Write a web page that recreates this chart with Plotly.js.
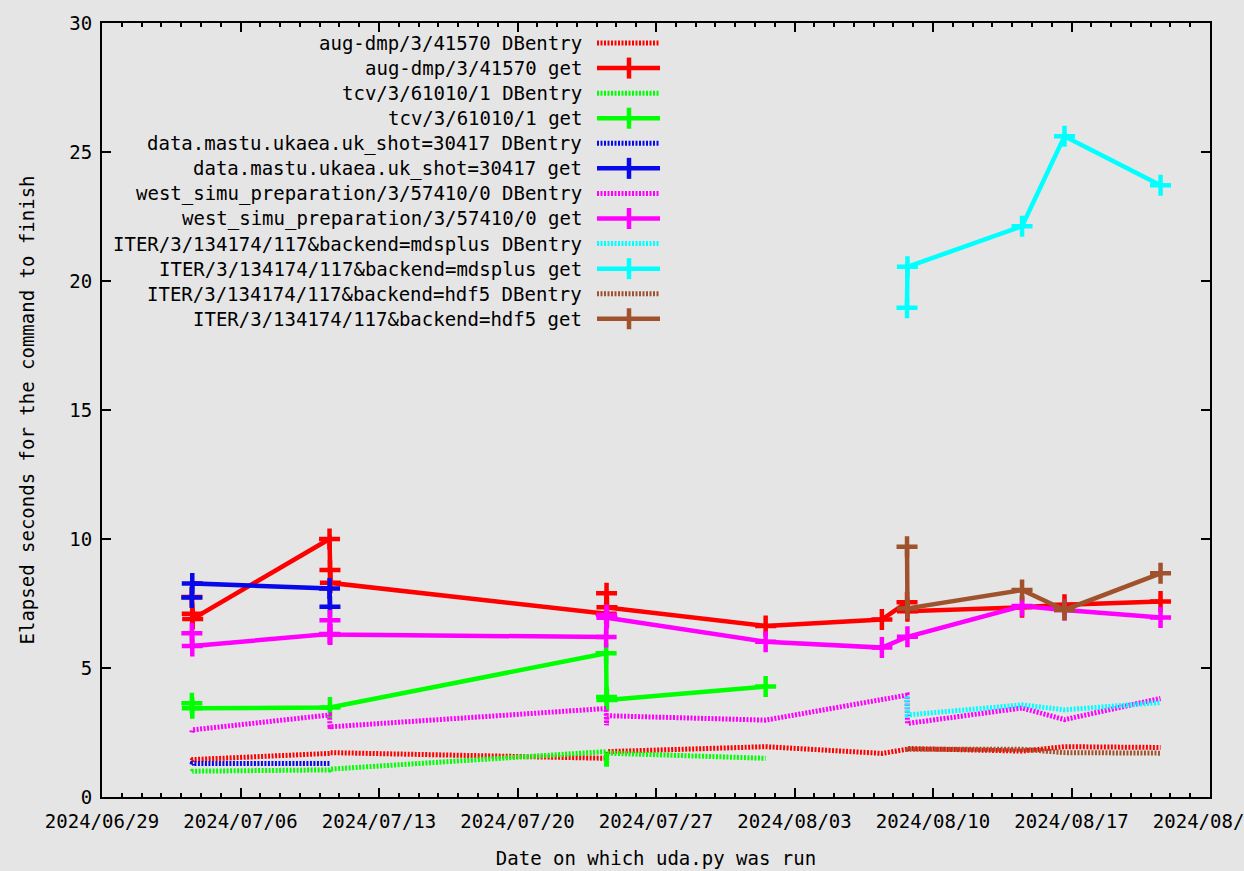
<!DOCTYPE html>
<html>
<head>
<meta charset="utf-8">
<script src="https://cdn.plot.ly/plotly-3.0.1.min.js"></script>
<style>
html,body{margin:0;padding:0;background:#e5e5e5;}
#chart{width:1244px;height:871px;}
</style>
</head>
<body>
<div id="chart"></div>
<script>
// ---- series names and colours (legend order = drawing order) ----
const seriesNames = [
  'aug-dmp/3/41570 DBentry',
  'aug-dmp/3/41570 get',
  'tcv/3/61010/1 DBentry',
  'tcv/3/61010/1 get',
  'data.mastu.ukaea.uk_shot=30417 DBentry',
  'data.mastu.ukaea.uk_shot=30417 get',
  'west_simu_preparation/3/57410/0 DBentry',
  'west_simu_preparation/3/57410/0 get',
  'ITER/3/134174/117&backend=mdsplus DBentry',
  'ITER/3/134174/117&backend=mdsplus get',
  'ITER/3/134174/117&backend=hdf5 DBentry',
  'ITER/3/134174/117&backend=hdf5 get'
];
const seriesColors = ['#ff0000','#ff0000','#00ff00','#00ff00','#0808e8','#0808e8',
                      '#ff00ff','#ff00ff','#00ffff','#00ffff','#a0522d','#a0522d'];

// ---- aug-dmp ----
const augDbX  = ['2024-07-03 13:00','2024-07-03 13:30','2024-07-03 14:00','2024-07-10 12:00','2024-07-10 12:30','2024-07-10 13:00',
                 '2024-07-24 11:30','2024-07-24 12:00','2024-07-24 12:30','2024-08-01 13:00','2024-08-07 10:00',
                 '2024-08-08 16:30','2024-08-08 17:00','2024-08-14 12:00','2024-08-16 15:30','2024-08-21 12:00'];
const augDbY  = [1.40,1.43,1.45,1.69,1.70,1.72,1.50,1.60,1.76,1.95,1.69,1.85,1.88,1.78,1.95,1.92];
const augGetX = augDbX;
const augGetY = [7.75,7.10,6.90,10.00,8.80,8.30,7.10,7.90,7.35,6.63,6.88,7.55,7.20,7.35,7.45,7.58];

// ---- tcv ----
const tcvDbX  = ['2024-07-03 13:00','2024-07-03 13:30','2024-07-10 12:00','2024-07-10 12:30',
                 '2024-07-24 11:30','2024-07-24 12:00','2024-07-24 12:30','2024-08-01 13:00'];
const tcvDbY  = [0.98,1.00,1.05,1.08,1.76,1.18,1.70,1.50];
const tcvGetX = ['2024-07-03 13:00','2024-07-03 13:30','2024-07-10 12:30',
                 '2024-07-24 11:30','2024-07-24 12:00','2024-07-24 12:30','2024-08-01 13:00'];
const tcvGetY = [3.63,3.44,3.47,5.57,3.88,3.76,4.28];

// ---- mastu ----
const mastuDbX  = ['2024-07-03 13:00','2024-07-03 13:30','2024-07-10 12:00','2024-07-10 12:30'];
const mastuDbY  = [1.25,1.30,1.30,1.30];
const mastuGetX = mastuDbX;
const mastuGetY = [7.73,8.28,8.08,7.37];

// ---- west ----
const westDbX  = ['2024-07-03 13:00','2024-07-03 13:30','2024-07-10 12:00','2024-07-10 12:30','2024-07-10 13:00',
                  '2024-07-24 11:30','2024-07-24 12:00','2024-07-24 12:30','2024-08-01 13:00','2024-08-07 10:00',
                  '2024-08-08 16:30','2024-08-08 17:00','2024-08-14 12:00','2024-08-16 15:30','2024-08-21 12:00'];
const westDbY  = [2.50,2.60,3.18,2.65,2.72,3.43,2.78,3.15,2.98,3.75,3.95,2.85,3.45,3.00,3.82];
const westGetX = ['2024-07-03 13:00','2024-07-03 13:30','2024-07-10 12:00','2024-07-10 12:30','2024-07-10 13:00',
                  '2024-07-24 11:30','2024-07-24 12:00','2024-07-24 12:30','2024-08-01 13:00','2024-08-07 10:00',
                  '2024-08-08 17:00','2024-08-14 12:00','2024-08-16 15:30','2024-08-21 12:00'];
const westGetY = [6.35,5.85,6.32,6.85,6.30,6.20,7.05,6.95,6.02,5.79,6.21,7.40,7.25,6.96];

// ---- ITER mdsplus ----
const mdsDbX  = ['2024-08-08 16:30','2024-08-08 17:00','2024-08-14 12:00','2024-08-16 15:30','2024-08-21 12:00'];
const mdsDbY  = [3.90,3.18,3.57,3.38,3.66];
const mdsGetX = mdsDbX;
const mdsGetY = [18.96,20.55,22.12,25.61,23.71];

// ---- ITER hdf5 ----
const hdfDbX  = mdsDbX;
const hdfDbY  = [1.90,1.85,1.85,1.72,1.70];
const hdfGetX = mdsDbX;
const hdfGetY = [9.70,7.31,8.02,7.25,8.67];

const seriesX = [augDbX, augGetX, tcvDbX, tcvGetX, mastuDbX, mastuGetX, westDbX, westGetX, mdsDbX, mdsGetX, hdfDbX, hdfGetX];
const seriesY = [augDbY, augGetY, tcvDbY, tcvGetY, mastuDbY, mastuGetY, westDbY, westGetY, mdsDbY, mdsGetY, hdfDbY, hdfGetY];

// ---- axis settings ----
const xRange = ['2024-06-29', '2024-08-24'];
const yRange = [0, 30];
const xTitle = 'Date on which uda.py was run';
const yTitle = 'Elapsed seconds for the command to finish';

const FONT = 'DejaVu Sans Mono';
const DB_DASH = '2px,1.5px';
const DB_WIDTH = 5;
const GET_WIDTH = 4.5;

const traces = seriesNames.map((name, i) => {
  const isGet = i % 2 === 1;
  const t = {
    type: 'scatter',
    x: seriesX[i],
    y: seriesY[i],
    name: name,
    mode: isGet ? 'lines+markers' : 'lines',
    line: {color: seriesColors[i], width: isGet ? GET_WIDTH : DB_WIDTH, dash: isGet ? 'solid' : DB_DASH},
    showlegend: false,
    hoverinfo: 'skip'
  };
  if (isGet) {
    t.marker = {symbol: 'cross-thin', size: 15, color: seriesColors[i],
                line: {color: seriesColors[i], width: GET_WIDTH}};
  }
  return t;
});

// ---- gnuplot-style key (right-justified text, sample on the right) ----
const W = 1244, H = 871;
const M = {l: 102, r: 34, t: 23, b: 74};
const plotW = W - M.l - M.r, plotH = H - M.t - M.b;
const px2x = px => (px - M.l) / plotW;
const py2y = py => (H - M.b - py) / plotH;
const keyTop = 43, keyStep = 25.07, keyTextRight = 584, keySampleL = 597, keySampleR = 660, keyCross = 629;

const annotations = [];
const shapes = [];
seriesNames.forEach((name, i) => {
  const isGet = i % 2 === 1;
  const cy = keyTop + keyStep * i;
  annotations.push({
    xref: 'paper', yref: 'paper', x: px2x(keyTextRight), y: py2y(cy),
    xanchor: 'right', yanchor: 'middle', showarrow: false, text: name,
    font: {family: FONT, size: 19, color: '#000'}
  });
  shapes.push({
    type: 'line', xref: 'paper', yref: 'paper',
    x0: px2x(keySampleL), x1: px2x(keySampleR), y0: py2y(cy), y1: py2y(cy),
    line: {color: seriesColors[i], width: isGet ? GET_WIDTH : DB_WIDTH, dash: isGet ? 'solid' : DB_DASH}
  });
  if (isGet) {
    shapes.push({
      type: 'line', xref: 'paper', yref: 'paper',
      x0: px2x(keyCross), x1: px2x(keyCross), y0: py2y(cy - 10.5), y1: py2y(cy + 10.5),
      line: {color: seriesColors[i], width: GET_WIDTH}
    });
  }
});

const tickFont = {family: FONT, size: 19, color: '#000'};
const layout = {
  width: W, height: H,
  paper_bgcolor: '#e5e5e5', plot_bgcolor: '#e5e5e5',
  margin: {l: M.l, r: M.r, t: M.t, b: M.b, pad: 0},
  showlegend: false,
  font: {family: FONT, size: 19, color: '#000'},
  xaxis: {
    type: 'date', range: xRange, autorange: false,
    tick0: '2024-06-29', dtick: 7 * 86400000, tickformat: '%Y/%m/%d',
    ticks: 'inside', ticklen: 9, tickwidth: 2, tickcolor: '#000',
    minor: {tick0: '2024-06-29', dtick: 86400000, ticks: 'inside', ticklen: 4, tickwidth: 2, tickcolor: '#000', showgrid: false},
    showline: true, linewidth: 2, linecolor: '#000', mirror: 'allticks',
    showgrid: false, zeroline: false, automargin: false,
    ticklabeloverflow: 'allow',
    tickfont: tickFont, ticklabelstandoff: 6,
    title: {text: xTitle, font: tickFont}
  },
  yaxis: {
    range: yRange, autorange: false, dtick: 5, tick0: 0,
    ticks: 'inside', ticklen: 9, tickwidth: 2, tickcolor: '#000',
    showline: true, linewidth: 2, linecolor: '#000', mirror: 'allticks',
    showgrid: false, zeroline: false, automargin: true,
    tickfont: tickFont, ticklabelstandoff: 4,
    title: {text: yTitle, font: tickFont, standoff: 30}
  },
  annotations: annotations,
  shapes: shapes
};

Plotly.newPlot('chart', traces, layout, {staticPlot: true, displayModeBar: false});
</script>
</body>
</html>
